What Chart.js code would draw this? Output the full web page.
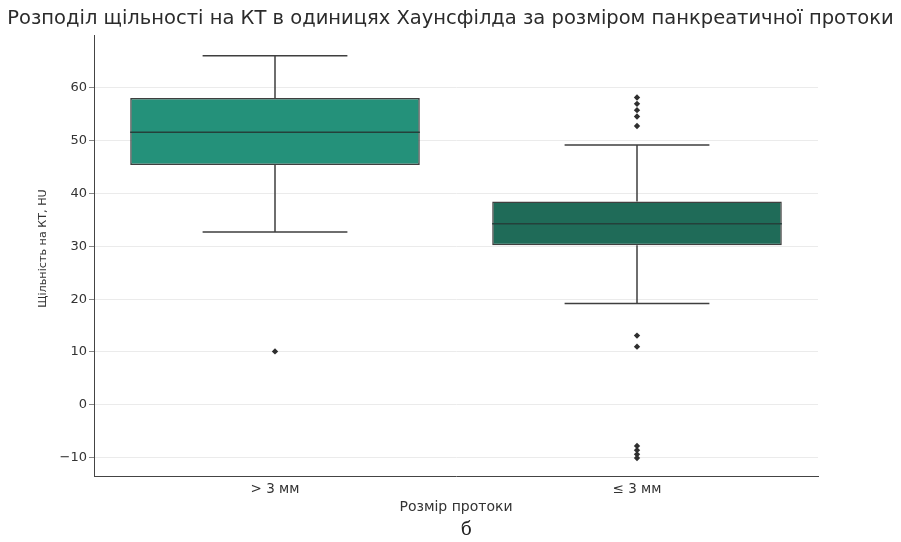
<!DOCTYPE html>
<html>
<head>
<meta charset="utf-8">
<script src="https://cdn.jsdelivr.net/npm/chart.js@4.4.0/dist/chart.umd.min.js"></script>
<style>
  html, body { margin: 0; padding: 0; background: #ffffff; }
  #wrap { width: 901px; height: 542px; }
</style>
</head>
<body>
<div id="wrap"><canvas id="c" width="901" height="542"></canvas></div>
<script>
// ---- data ----
const categories = ['> 3 мм', '≤ 3 мм'];
const q1Values = [45.4, 30.2];
const q3Values = [58.1, 38.5];
const medianValues = [51.6, 34.3];
const whiskerLow = [32.7, 19.2];
const whiskerHigh = [66.1, 49.2];
const outliersGt3 = [10.1];
const outliersLe3 = [58.2, 57.0, 55.8, 54.6, 52.8, 13.1, 11.0, -7.8, -8.6, -9.4, -10.1];
const yTicks = [-10, 0, 10, 20, 30, 40, 50, 60];
const boxColors = ['#24917a', '#1f6b58'];
const panelLabel = 'б';

const lineColor = '#3f3f3f';

const outlierPoints = [];
outliersGt3.forEach(v => outlierPoints.push({ x: categories[0], y: v }));
outliersLe3.forEach(v => outlierPoints.push({ x: categories[1], y: v }));

const boxPlugin = {
  id: 'boxParts',
  afterDatasetsDraw(chart) {
    const ctx = chart.ctx;
    const xs = chart.scales.x, ys = chart.scales.y;
    const meta = chart.getDatasetMeta(0);
    ctx.save();
    ctx.lineWidth = 1.5;
    categories.forEach((c, i) => {
      const bar = meta.data[i];
      const cx = xs.getPixelForValue(i);
      const half = bar.width / 2;
      const capHalf = half / 2;
      const yq1 = ys.getPixelForValue(q1Values[i]);
      const yq3 = ys.getPixelForValue(q3Values[i]);
      const ylo = ys.getPixelForValue(whiskerLow[i]);
      const yhi = ys.getPixelForValue(whiskerHigh[i]);
      const ymed = ys.getPixelForValue(medianValues[i]);
      ctx.strokeStyle = lineColor;
      ctx.beginPath();
      ctx.moveTo(cx, yq3); ctx.lineTo(cx, yhi);
      ctx.moveTo(cx, yq1); ctx.lineTo(cx, ylo);
      ctx.moveTo(cx - capHalf, yhi); ctx.lineTo(cx + capHalf, yhi);
      ctx.moveTo(cx - capHalf, ylo); ctx.lineTo(cx + capHalf, ylo);
      ctx.stroke();
      ctx.beginPath();
      ctx.strokeStyle = '#24403a';
      ctx.moveTo(cx - half, ymed); ctx.lineTo(cx + half, ymed);
      ctx.stroke();
    });
    // panel label below the axis title
    ctx.fillStyle = '#222';
    ctx.font = '18px "DejaVu Serif"';
    ctx.textAlign = 'center';
    ctx.textBaseline = 'middle';
    ctx.fillText(panelLabel, chart.width / 2 + 16, chart.height - 12);
    ctx.restore();
  }
};

new Chart(document.getElementById('c'), {
  data: {
    labels: categories,
    datasets: [
      {
        type: 'bar',
        data: categories.map((c, i) => [q1Values[i], q3Values[i]]),
        backgroundColor: boxColors,
        borderColor: lineColor,
        borderWidth: 1.5,
        borderSkipped: false,
        barPercentage: 0.8,
        categoryPercentage: 1.0,
        order: 2
      },
      {
        type: 'line',
        data: outlierPoints,
        showLine: false,
        pointStyle: 'rectRot',
        pointRadius: 3.2,
        pointBackgroundColor: '#2f2f2f',
        pointBorderColor: '#2f2f2f',
        pointBorderWidth: 0,
        order: 1
      }
    ]
  },
  options: {
    responsive: false,
    animation: false,
    devicePixelRatio: 1,
    layout: { padding: 0 },
    plugins: {
      legend: { display: false },
      tooltip: { enabled: false },
      title: {
        display: true,
        text: 'Розподіл щільності на КТ в одиницях Хаунсфілда за розміром панкреатичної протоки',
        color: '#2b2b2b',
        font: { family: 'DejaVu Sans', size: 19.5, weight: 'normal' },
        padding: { top: 7, bottom: 4.8 }
      }
    },
    scales: {
      x: {
        type: 'category',
        offset: true,
        grid: { display: false, drawTicks: false },
        border: { display: true, color: '#444', width: 1 },
        ticks: { color: '#333', font: { family: 'DejaVu Sans', size: 13.5 }, padding: 5 },
        title: {
          display: true,
          text: 'Розмір протоки',
          color: '#333',
          font: { family: 'DejaVu Sans', size: 14 },
          padding: { top: 0, bottom: 26.6 }
        },
        afterFit(scale) { scale.height = 66; }
      },
      y: {
        type: 'linear',
        position: 'left',
        min: -13.5,
        max: 70,
        afterBuildTicks(scale) { scale.ticks = yTicks.map(v => ({ value: v })); },
        grid: { color: '#ebebeb', lineWidth: 1, drawTicks: true, tickLength: 5, tickColor: '#888' },
        border: { display: true, color: '#444', width: 1 },
        ticks: {
          color: '#333',
          font: { family: 'DejaVu Sans', size: 13 },
          padding: 2,
          callback: v => (v < 0 ? '\u2212' + Math.abs(v) : String(v))
        },
        title: {
          display: true,
          text: '    Щільність на КТ, HU',
          color: '#333',
          font: { family: 'DejaVu Sans', size: 11.2 },
          padding: { top: 36.8, bottom: 0 }
        },
        afterFit(scale) { scale.width = 94; }
      },
      yRight: {
        type: 'linear',
        position: 'right',
        display: true,
        grid: { display: false, drawTicks: false },
        border: { display: false },
        ticks: { display: false },
        afterFit(scale) { scale.width = 83; }
      }
    }
  },
  plugins: [boxPlugin]
});
</script>
</body>
</html>
